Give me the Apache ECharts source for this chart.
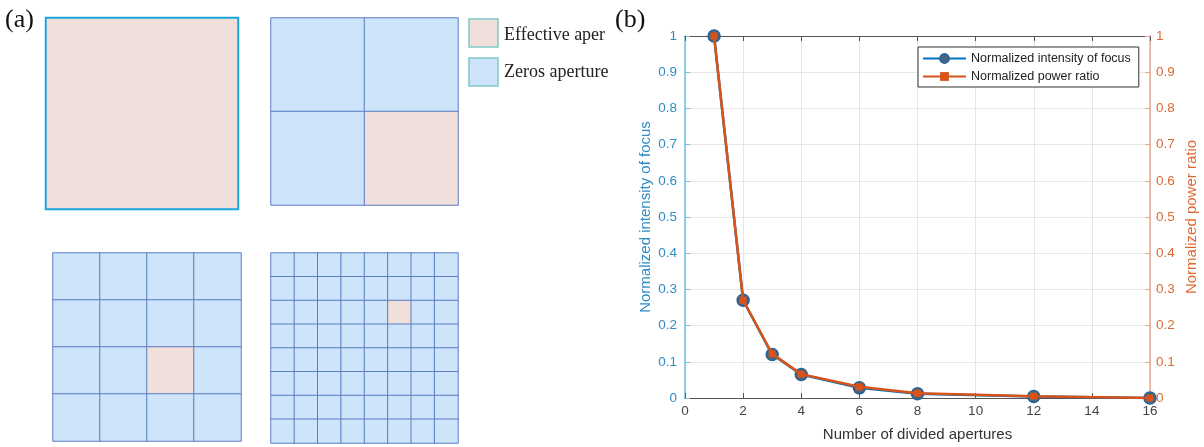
<!DOCTYPE html>
<html><head><meta charset="utf-8">
<script src="https://cdn.jsdelivr.net/npm/echarts@6/dist/echarts.min.js"></script>
<style>html,body{margin:0;padding:0;background:#fff}#c{width:1204px;height:447px}</style>
</head><body><div id="c"></div>
<script>
// ---- panel (a) data ----
const divisions = [1, 2, 4, 8];          // cells per side of each aperture
const effectiveRow = [0, 1, 2, 2];       // row of the effective cell (from top)
const effectiveCol = [0, 1, 2, 5];       // column of the effective cell
const legendLabels = ['Effective aper', 'Zeros aperture'];

// ---- panel (b) data ----
const apertureCounts = [1, 2, 3, 4, 6, 8, 12, 16];
const intensityOfFocus = [1, 0.27, 0.12, 0.065, 0.028, 0.012, 0.004, 0];
const powerRatio = [1, 0.27, 0.122, 0.066, 0.031, 0.013, 0.005, 0];
const seriesNames = ['Normalized intensity of focus', 'Normalized power ratio'];
const axisNames = ['Number of divided apertures', 'Normalized intensity of focus', 'Normalized power ratio'];

// layout (positions only)
const boxes = [
  {left: 46, top: 18, width: 192, height: 191},
  {left: 271, top: 18, width: 187, height: 187},
  {left: 53, top: 253, width: 188, height: 188},
  {left: 271, top: 253, width: 187, height: 190}
];
const PINK = '#F1DFDC', BLUE = '#CDE4FA';

const grids = [], xAxes = [], yAxes = [], series = [];
divisions.forEach((n, i) => {
  grids.push(Object.assign({}, boxes[i]));
  const cats = Array.from({length: n}, (_, k) => String(k));
  xAxes.push({type: 'category', gridIndex: i, data: cats, show: false});
  yAxes.push({type: 'category', gridIndex: i, data: cats, inverse: true, show: false});
  const data = [];
  for (let r = 0; r < n; r++) for (let c = 0; c < n; c++)
    data.push([c, r, (r === effectiveRow[i] && c === effectiveCol[i]) ? 1 : 0]);
  series.push({
    type: 'heatmap', xAxisIndex: i, yAxisIndex: i, data: data, silent: true,
    itemStyle: i === 0 ? {borderColor: '#1AA6D9', borderWidth: 2} : {borderColor: '#5B7EC3', borderWidth: 1},
    emphasis: {disabled: true}
  });
});

// chart grid
grids.push({left: 685, top: 36, width: 465, height: 364});
const FONT = 'Liberation Sans';
xAxes.push({
  type: 'value', gridIndex: 4, position: 'bottom', min: 0, max: 16, interval: 2,
  name: axisNames[0], nameLocation: 'middle', nameGap: 29,
  nameTextStyle: {fontSize: 15, color: '#333', fontFamily: FONT},
  axisLine: {onZero: false, lineStyle: {color: '#555', width: 1}},
  axisTick: {inside: true, length: 5, lineStyle: {color: '#555'}},
  axisLabel: {fontSize: 13.5, color: '#444', fontFamily: FONT, margin: 6},
  splitLine: {show: true, lineStyle: {color: '#e6e6e6'}}
});
xAxes.push({
  type: 'value', gridIndex: 4, position: 'top', min: 0, max: 16, interval: 2,
  axisLine: {onZero: false, lineStyle: {color: '#555', width: 1}},
  axisTick: {inside: true, length: 5, lineStyle: {color: '#555'}},
  axisLabel: {show: false}, splitLine: {show: false}
});
yAxes.push({
  type: 'value', gridIndex: 4, position: 'left', min: 0, max: 1, interval: 0.1,
  name: axisNames[1], nameLocation: 'middle', nameGap: 32, nameRotate: 90,
  nameTextStyle: {fontSize: 15, color: '#2F8CC6', fontFamily: FONT},
  axisLine: {show: true, onZero: false, lineStyle: {color: '#6DC0E6', width: 1.5}},
  axisTick: {show: true, inside: true, length: 5, lineStyle: {color: '#6DC0E6'}},
  axisLabel: {fontSize: 13.5, color: '#2F8CC6', fontFamily: FONT, margin: 8},
  splitLine: {show: true, lineStyle: {color: '#e6e6e6'}}
});
yAxes.push({
  type: 'value', gridIndex: 4, position: 'right', min: 0, max: 1, interval: 0.1,
  name: axisNames[2], nameLocation: 'middle', nameGap: 34, nameRotate: 90,
  nameTextStyle: {fontSize: 15, color: '#DE6A33', fontFamily: FONT},
  axisLine: {show: true, onZero: false, lineStyle: {color: '#EDAA8C', width: 1.5}},
  axisTick: {show: true, inside: true, length: 5, lineStyle: {color: '#EDAA8C'}},
  axisLabel: {fontSize: 13.5, color: '#DE6A33', fontFamily: FONT, margin: 6},
  splitLine: {show: false}
});

series.push({
  name: seriesNames[0], type: 'line', xAxisIndex: 4, yAxisIndex: 4,
  data: apertureCounts.map((x, k) => [x, intensityOfFocus[k]]),
  symbol: 'circle', symbolSize: 12, showAllSymbol: true,
  lineStyle: {color: '#0072BD', width: 2.5},
  itemStyle: {color: '#4A6580', borderColor: '#2A6496', borderWidth: 1.5},
  emphasis: {disabled: true}, z: 3
});
series.push({
  name: seriesNames[1], type: 'line', xAxisIndex: 4, yAxisIndex: 5,
  data: apertureCounts.map((x, k) => [x, powerRatio[k]]),
  symbol: 'rect', symbolSize: 7, showAllSymbol: true,
  lineStyle: {color: '#D95319', width: 2.5},
  itemStyle: {color: '#D95319'},
  emphasis: {disabled: true}, z: 4
});

const option = {
  animation: false,
  backgroundColor: '#fff',
  grid: grids, xAxis: xAxes, yAxis: yAxes, series: series,
  visualMap: {
    type: 'piecewise', show: false, seriesIndex: [0, 1, 2, 3], dimension: 2,
    pieces: [{min: 0.5, color: PINK}, {max: 0.5, color: BLUE}]
  },
  legend: {
    data: seriesNames, orient: 'vertical', left: 918, top: 47,
    backgroundColor: '#fff', borderColor: '#333', borderWidth: 1,
    padding: [5, 8, 4, 4], itemGap: 5, itemWidth: 43, itemHeight: 11,
    textStyle: {fontSize: 12.5, color: '#222', fontFamily: FONT}
  },
  graphic: [
    {type: 'text', left: 5, top: 7, style: {text: '(a)', font: '26px "Liberation Serif"', fill: '#111'}},
    {type: 'text', left: 615, top: 7, style: {text: '(b)', font: '26px "Liberation Serif"', fill: '#111'}},
    {type: 'rect', shape: {x: 469, y: 19, width: 29, height: 28}, style: {fill: PINK, stroke: '#80C6C6', lineWidth: 1.5}},
    {type: 'rect', shape: {x: 469, y: 58, width: 29, height: 28}, style: {fill: BLUE, stroke: '#80C6C6', lineWidth: 1.5}},
    {type: 'text', x: 504, y: 35, style: {text: legendLabels[0], font: '18px "Liberation Serif"', fill: '#222', verticalAlign: 'middle'}},
    {type: 'text', x: 504, y: 72, style: {text: legendLabels[1], font: '18px "Liberation Serif"', fill: '#222', verticalAlign: 'middle'}}
  ]
};
echarts.init(document.getElementById('c'), null, {renderer: 'canvas'}).setOption(option);
</script>
</body></html>
